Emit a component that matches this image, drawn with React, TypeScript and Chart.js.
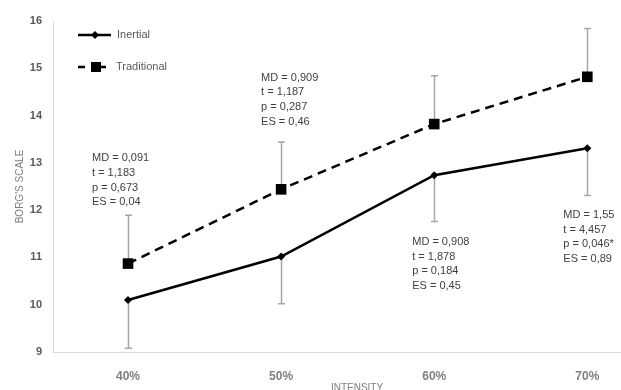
import React, { useEffect, useRef } from 'react';
import { Chart, registerables } from 'chart.js';

Chart.register(...registerables);

const categories = ['40%', '50%', '60%', '70%'];
const inertial = [10.1, 11.02, 12.74, 13.31];
const traditional = [10.87, 12.44, 13.82, 14.82];
const sdInertial = [1.02, 1.0, 0.98, 1.0];
const sdTraditional = [1.02, 1.0, 1.02, 1.02];
const yTicks = [9, 10, 11, 12, 13, 14, 15, 16];
const statsText = [
  ['MD = 0,091', 't = 1,183', 'p = 0,673', 'ES = 0,04'],
  ['MD = 0,909', 't = 1,187', 'p = 0,287', 'ES = 0,46'],
  ['MD = 0,908', 't = 1,878', 'p = 0,184', 'ES = 0,45'],
  ['MD = 1,55', 't = 4,457', 'p = 0,046*', 'ES = 0,89'],
];
const statsAnchorValue = [13.1, 14.8, 11.33, 11.9];
const xTitle = 'INTENSITY';

const FONT = '"Liberation Sans", Arial, sans-serif';

export default function App() {
  const ref = useRef<HTMLCanvasElement | null>(null);

  useEffect(() => {
    document.body.style.margin = '0';
    const canvas = ref.current;
    if (!canvas) return;

    const statsOffsetX = [-36, -20, -22, -24];

    const errorBars = {
      id: 'errorBars',
      beforeDatasetsDraw(chart: any) {
        const { ctx, scales } = chart;
        const x = scales.x;
        const y = scales.y;
        ctx.save();
        ctx.strokeStyle = '#a6a6a6';
        ctx.lineWidth = 1.5;
        const draw = (vals: number[], sds: number[], dir: number) => {
          vals.forEach((v, i) => {
            const px = Math.round(x.getPixelForValue(i)) + 0.5;
            const y0 = y.getPixelForValue(v);
            const y1 = y.getPixelForValue(v + dir * sds[i]);
            ctx.beginPath();
            ctx.moveTo(px, y0);
            ctx.lineTo(px, y1);
            ctx.moveTo(px - 3.5, y1);
            ctx.lineTo(px + 3.5, y1);
            ctx.stroke();
          });
        };
        draw(inertial, sdInertial, -1);
        draw(traditional, sdTraditional, 1);
        ctx.restore();
      },
    };

    const annotations = {
      id: 'statsText',
      afterDatasetsDraw(chart: any) {
        const { ctx, scales, chartArea } = chart;
        const x = scales.x;
        const y = scales.y;
        ctx.save();
        ctx.font = `11px ${FONT}`;
        ctx.fillStyle = '#404040';
        ctx.textAlign = 'left';
        ctx.textBaseline = 'middle';
        statsText.forEach((lines, i) => {
          const px = x.getPixelForValue(i) + statsOffsetX[i];
          const py = y.getPixelForValue(statsAnchorValue[i]);
          lines.forEach((t, j) => ctx.fillText(t, px, py + j * 14.7));
        });
        // x-axis title (slightly right of centre, cut by the bottom edge)
        ctx.font = `10px ${FONT}`;
        ctx.fillStyle = '#7f7f7f';
        ctx.textAlign = 'center';
        ctx.fillText(xTitle, (chartArea.left + chartArea.right) / 2 + 20, 388.5);
        ctx.restore();
      },
    };

    const legend = {
      id: 'customLegend',
      afterDraw(chart: any) {
        const { ctx } = chart;
        const ds = chart.data.datasets;
        ctx.save();
        ctx.strokeStyle = '#000';
        ctx.fillStyle = '#000';
        ctx.lineWidth = 2.5;
        ctx.beginPath();
        ctx.moveTo(78, 35);
        ctx.lineTo(111, 35);
        ctx.stroke();
        ctx.beginPath();
        ctx.moveTo(95, 31);
        ctx.lineTo(99, 35);
        ctx.lineTo(95, 39);
        ctx.lineTo(91, 35);
        ctx.closePath();
        ctx.fill();
        ctx.beginPath();
        ctx.moveTo(78, 67);
        ctx.lineTo(85, 67);
        ctx.moveTo(100, 67);
        ctx.lineTo(106, 67);
        ctx.stroke();
        ctx.fillRect(91, 62, 10, 10);
        ctx.font = `11px ${FONT}`;
        ctx.fillStyle = '#595959';
        ctx.textBaseline = 'middle';
        ctx.fillText(ds[0].label, 117, 35);
        ctx.fillText(ds[1].label, 116, 67);
        ctx.restore();
      },
    };

    const chart = new Chart(canvas, {
      type: 'line',
      data: {
        datasets: [
          {
            label: 'Inertial',
            data: inertial.map((v, i) => ({ x: i, y: v })),
            borderColor: '#000',
            backgroundColor: '#000',
            borderWidth: 2.5,
            pointStyle: 'rectRot',
            pointRadius: 4,
            pointBorderWidth: 0,
            tension: 0,
          },
          {
            label: 'Traditional',
            data: traditional.map((v, i) => ({ x: i, y: v })),
            borderColor: '#000',
            backgroundColor: '#000',
            borderWidth: 2.5,
            borderDash: [9, 6],
            pointStyle: 'rect',
            pointRadius: 7.5,
            pointBorderWidth: 0,
            tension: 0,
          },
        ],
      },
      options: {
        responsive: false,
        animation: false,
        layout: { padding: { top: 21, right: 0, left: 0, bottom: 0 } },
        plugins: {
          legend: { display: false },
          tooltip: { enabled: false },
        },
        scales: {
          x: {
            type: 'linear',
            min: -0.49,
            max: 3.22,
            grid: { display: false, drawTicks: false },
            border: { display: true, color: '#d9d9d9', width: 1 },
            afterBuildTicks: (scale: any) => {
              scale.ticks = categories.map((_, i) => ({ value: i }));
            },
            afterFit: (scale: any) => {
              scale.height = 38;
            },
            ticks: {
              padding: 17,
              color: '#7f7f7f',
              font: { family: FONT, size: 12, weight: 'bold' },
              callback: (v: any) => categories[v] ?? '',
            },
            title: { display: false },
          },
          y: {
            min: 9,
            max: 16,
            grid: { display: false, drawTicks: false },
            border: { display: true, color: '#d9d9d9', width: 1 },
            afterBuildTicks: (scale: any) => {
              scale.ticks = yTicks.map((v) => ({ value: v }));
            },
            afterFit: (scale: any) => {
              scale.width = 53;
            },
            ticks: {
              padding: 11,
              color: '#595959',
              font: { family: FONT, size: 11, weight: 'bold' },
            },
            title: {
              display: true,
              text: "BORG'S SCALE",
              color: '#7f7f7f',
              font: { family: FONT, size: 10 },
              padding: { top: 14, bottom: 0 },
            },
          },
        },
      },
      plugins: [errorBars, annotations, legend],
    } as any);

    // Let the plot area run to the canvas edge, as in the reference
    chart.data.datasets.forEach((_: any, i: number) => {
      const meta: any = chart.getDatasetMeta(i);
      if (meta && meta.controller) meta.controller.getMaxOverflow = () => 0;
    });
    chart.update();

    return () => chart.destroy();
  }, []);

  return (
    <div style={{ width: 621, height: 390 }}>
      <canvas ref={ref} width={621} height={390} style={{ display: 'block' }} />
    </div>
  );
}
